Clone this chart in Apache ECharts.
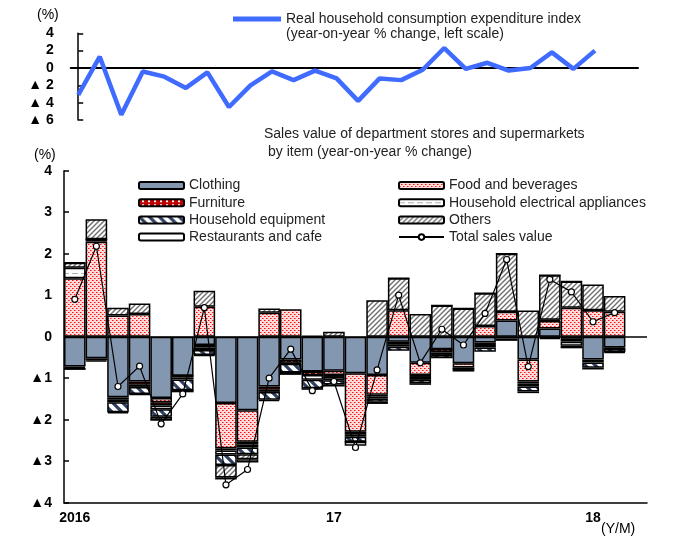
<!DOCTYPE html>
<html>
<head>
<meta charset="utf-8">
<script src="https://cdn.jsdelivr.net/npm/echarts@6/dist/echarts.min.js"></script>
<style>
  html, body { margin: 0; padding: 0; background: #fff; }
  #chart { width: 682px; height: 537px; }
</style>
</head>
<body>
<div id="chart"></div>
<script>
// months on the bar axis (last one is left empty, as in the original)
const months = ['2016/1','2016/2','2016/3','2016/4','2016/5','2016/6','2016/7','2016/8','2016/9','2016/10','2016/11','2016/12',
  '2017/1','2017/2','2017/3','2017/4','2017/5','2017/6','2017/7','2017/8','2017/9','2017/10','2017/11','2017/12',
  '2018/1','2018/2','2018/3'];
const yearLabels = { '2016/1': '2016', '2017/1': '17', '2018/1': '18' };

// real household consumption expenditure index, y/y % (2016/1 - 2018/1)
const consumption = [-3.1, 1.3, -5.4, -0.4, -1.0, -2.3, -0.5, -4.5, -2.0, -0.4, -1.4, -0.3,
  -1.2, -3.8, -1.2, -1.4, -0.2, 2.3, -0.1, 0.6, -0.3, 0.0, 1.8, -0.1, 2.0];

// contributions to sales value of department stores and supermarkets
const clothing    = [-0.72, -0.52, -1.46, -1.08, -1.48, -0.94, -0.20, -1.60, -1.77, -1.20, -0.55, -0.84,
  -0.82, -0.88, -0.92, -0.12, -0.63, -0.30, -0.64, -0.14, 0.39, -0.55, 0.20, -0.08, -0.55, -0.26];
const food        = [1.41, 2.29, 0.51, 0.55, -0.10, 0, 0.72, -1.09, -0.76, 0.58, 0.66, 0,
  -0.10, -1.41, -0.48, 0.64, -0.29, 0, -0.10, 0.26, 0.21, -0.53, 0.18, 0.70, 0.64, 0.60];
const furniture   = [-0.03, 0.06, -0.06, -0.08, -0.08, -0.04, -0.06, -0.05, -0.07, -0.08, -0.08, -0.08,
  -0.05, -0.06, -0.04, -0.06, -0.05, -0.08, -0.04, -0.06, 0, -0.05, -0.03, -0.04, 0, -0.03];
const electrical  = [0.25, 0, -0.06, -0.05, -0.09, -0.05, -0.06, -0.10, -0.07, -0.05, -0.02, -0.12,
  -0.08, -0.06, -0.05, -0.06, -0.07, -0.06, 0, -0.06, -0.04, -0.07, -0.03, -0.10, -0.07, 0];
const equipment   = [-0.05, -0.05, -0.24, -0.17, -0.18, -0.26, -0.12, -0.25, -0.16, -0.19, -0.21, -0.20,
  -0.10, -0.12, -0.08, -0.10, -0.08, -0.08, -0.06, -0.10, -0.06, -0.12, 0.03, -0.06, -0.13, -0.08];
const others      = [0.12, 0.48, 0.19, 0.25, -0.08, 0, 0.39, -0.30, -0.12, 0.10, 0, 0.02,
  0.12, 0, 0.88, 0.77, 0.55, 0.75, 0.68, 0.79, 1.40, 0.63, 1.07, 0.63, 0.62, 0.38];
const restaurants = [0, -0.03, -0.03, -0.02, 0, -0.05, -0.02, -0.05, -0.08, -0.03, -0.06, -0.04,
  -0.05, -0.10, -0.05, 0, -0.04, 0, 0, 0, 0, -0.04, 0, 0, -0.04, -0.02];
const totalSales  = [0.9, 2.18, -1.2, -0.71, -2.1, -1.38, 0.7, -3.57, -3.2, -1.0, -0.3, -1.3,
  -1.08, -2.67, -0.8, 1.0, -0.63, 0.18, -0.2, 0.56, 1.86, -0.72, 1.38, 1.08, 0.36, 0.58];

const FONT = 'Liberation Sans, Arial, sans-serif';

function pattern(w, h, draw) {
  const c = document.createElement('canvas');
  c.width = w; c.height = h;
  const g = c.getContext('2d');
  draw(g);
  return { image: c, repeat: 'repeat' };
}

const foodFill = pattern(4, 4, g => {
  g.fillStyle = '#ffdcdc'; g.fillRect(0, 0, 4, 4);
  g.fillStyle = '#ff1010'; g.fillRect(0, 0, 1, 1); g.fillRect(2, 2, 1, 1);
  g.fillStyle = '#ff7070'; g.fillRect(1, 0, 1, 1); g.fillRect(3, 2, 1, 1);
});
const furnitureFill = pattern(6, 4, g => {
  g.fillStyle = '#c00000'; g.fillRect(0, 0, 6, 4);
  g.fillStyle = '#ffffff'; g.fillRect(3, 1, 2, 2);
});
const electricalFill = pattern(9, 6, g => {
  g.fillStyle = '#ffffff'; g.fillRect(0, 0, 9, 6);
  g.fillStyle = '#b0b0b0'; g.fillRect(0, 3, 6, 1);
});
const equipmentFill = pattern(10, 10, g => {
  g.fillStyle = '#ffffff'; g.fillRect(0, 0, 10, 10);
  g.strokeStyle = '#2e3f60'; g.lineWidth = 3.2;
  g.beginPath();
  g.moveTo(-2, -2); g.lineTo(12, 12);
  g.moveTo(-2, 8); g.lineTo(2, 12);
  g.moveTo(8, -2); g.lineTo(12, 2);
  g.stroke();
});
const othersFill = pattern(5, 5, g => {
  g.fillStyle = '#ffffff'; g.fillRect(0, 0, 5, 5);
  g.strokeStyle = '#6e6e6e'; g.lineWidth = 1.4;
  g.beginPath();
  g.moveTo(-1, 6); g.lineTo(6, -1);
  g.moveTo(-1, 1); g.lineTo(1, -1);
  g.moveTo(4, 6); g.lineTo(6, 4);
  g.stroke();
});

function barSeries(name, data, fill) {
  return {
    name: name,
    type: 'bar',
    stack: 'sales',
    xAxisIndex: 1,
    yAxisIndex: 1,
    barCategoryGap: '0%',
    data: data,
    itemStyle: { color: fill, borderColor: '#000', borderWidth: 1.5 },
    emphasis: { disabled: true }
  };
}

const chart = echarts.init(document.getElementById('chart'), null, { renderer: 'canvas' });

const legendText = { fontFamily: FONT, fontSize: 14, color: '#222' };

const option = {
  animation: false,
  textStyle: { fontFamily: FONT },
  grid: [
    { left: 70.7, right: 44, top: 33.3, height: 86.7 },
    { left: 64, right: 35, top: 170.7, bottom: 34.3 }
  ],
  legend: [
    {
      data: [{ name: 'Real household consumption expenditure index', icon: 'rect' }],
      left: 228, top: 7,
      itemWidth: 48, itemHeight: 5, itemGap: 4,
      selectedMode: false,
      textStyle: legendText
    },
    {
      data: ['Clothing', 'Furniture', 'Household equipment', 'Restaurants and cafe'],
      orient: 'vertical',
      left: 133, top: 173.5,
      itemWidth: 45, itemHeight: 7, itemGap: 3.2,
      selectedMode: false,
      textStyle: legendText
    },
    {
      data: ['Food and beverages', 'Household electrical appliances', 'Others', 'Total sales value'],
      orient: 'vertical',
      left: 393, top: 173.5,
      itemWidth: 45, itemHeight: 7, itemGap: 3.2,
      selectedMode: false,
      textStyle: legendText
    }
  ],
  graphic: [
    { type: 'text', left: 37, top: 8, style: { text: '(%)', font: '14px ' + FONT, fill: '#000' } },
    { type: 'text', left: 286, top: 27, style: { text: '(year-on-year % change, left scale)', font: '14px ' + FONT, fill: '#222' } },
    { type: 'text', left: 264, top: 127, style: { text: 'Sales value of department stores and supermarkets', font: '14px ' + FONT, fill: '#222' } },
    { type: 'text', left: 268, top: 145, style: { text: 'by item (year-on-year % change)', font: '14px ' + FONT, fill: '#222' } },
    { type: 'text', left: 34, top: 148, style: { text: '(%)', font: '14px ' + FONT, fill: '#000' } },
    { type: 'text', left: 601, top: 522, style: { text: '(Y/M)', font: '14px ' + FONT, fill: '#000' } }
  ],
  xAxis: [
    {
      gridIndex: 0,
      type: 'value',
      min: -0.35, max: 26,
      axisLine: { show: true, onZero: true, lineStyle: { color: '#000', width: 2 } },
      axisTick: { show: false },
      axisLabel: { show: false },
      splitLine: { show: false }
    },
    {
      gridIndex: 1,
      type: 'category',
      data: months,
      boundaryGap: true,
      axisLine: { onZero: false, lineStyle: { color: '#000', width: 1.5 } },
      axisTick: {
        length: 4,
        lineStyle: { color: '#000', width: 1.5 },
        interval: (i) => i % 12 === 0
      },
      axisLabel: {
        interval: (i) => i % 12 === 0,
        formatter: (v) => yearLabels[v] || '',
        color: '#000', fontSize: 14, fontWeight: 'bold', margin: 8
      },
      splitLine: { show: false }
    }
  ],
  yAxis: [
    {
      gridIndex: 0,
      type: 'value',
      min: -6, max: 4, interval: 2,
      axisLine: { show: true, lineStyle: { color: '#000', width: 1.5 } },
      axisTick: { show: true, inside: true, length: 5, lineStyle: { color: '#000', width: 1.5 } },
      axisLabel: {
        formatter: (v) => v < 0 ? '▲ ' + (-v) : String(v),
        color: '#000', fontSize: 14, fontWeight: 'bold', margin: 17
      },
      splitLine: { show: false }
    },
    {
      gridIndex: 1,
      type: 'value',
      min: -4, max: 4, interval: 1,
      axisLine: { show: true, lineStyle: { color: '#000', width: 1.5 } },
      axisTick: { show: true, inside: true, length: 5, lineStyle: { color: '#000', width: 1.5 } },
      axisLabel: {
        formatter: (v) => v < 0 ? '▲' + (-v) : String(v),
        color: '#000', fontSize: 14, fontWeight: 'bold', margin: 12
      },
      splitLine: { show: false }
    }
  ],
  series: [
    {
      name: 'Real household consumption expenditure index',
      type: 'line',
      xAxisIndex: 0,
      yAxisIndex: 0,
      data: consumption.map((v, i) => [i, v]),
      symbol: 'none',
      lineStyle: { color: '#3f6bff', width: 4.5 },
      itemStyle: { color: '#3f6bff' },
      emphasis: { disabled: true }
    },
    barSeries('Clothing', clothing, '#8497b0'),
    barSeries('Food and beverages', food, foodFill),
    barSeries('Furniture', furniture, furnitureFill),
    barSeries('Household electrical appliances', electrical, electricalFill),
    barSeries('Household equipment', equipment, equipmentFill),
    barSeries('Others', others, othersFill),
    barSeries('Restaurants and cafe', restaurants, '#ffffff'),
    {
      name: 'Total sales value',
      type: 'line',
      xAxisIndex: 1,
      yAxisIndex: 1,
      data: totalSales,
      z: 5,
      symbol: 'circle',
      symbolSize: 6,
      lineStyle: { color: '#000', width: 1.2 },
      itemStyle: { color: '#fff', borderColor: '#000', borderWidth: 1.2 },
      emphasis: { disabled: true },
      markLine: {
        silent: true,
        symbol: 'none',
        label: { show: false },
        lineStyle: { color: '#000', width: 1.5, type: 'solid' },
        data: [{ yAxis: 0 }]
      }
    }
  ]
};

chart.setOption(option);
</script>
</body>
</html>
